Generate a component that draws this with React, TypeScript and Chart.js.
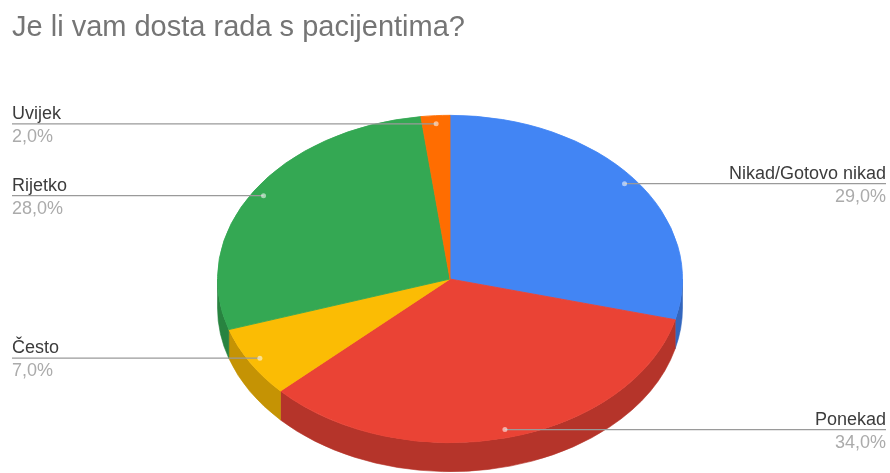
import React, { useEffect, useRef } from "react";
import { Chart, registerables } from "chart.js";

Chart.register(...registerables);

const title = "Je li vam dosta rada s pacijentima?";
const categories = ["Nikad/Gotovo nikad", "Ponekad", "Često", "Rijetko", "Uvijek"];
const values = [29, 34, 7, 28, 2];
const percentLabels = ["29,0%", "34,0%", "7,0%", "28,0%", "2,0%"];
const topColors = ["#4285F4", "#EA4335", "#FBBC04", "#34A853", "#FF6D01"];
const sideColors = ["#3366BE", "#B5342A", "#C59304", "#288340", "#C45400"];

const W = 890;
const H = 473;
const SCREEN_CY = 279;
const TILT = 0.704;
const DEPTH = 29;
const FONT = "'Liberation Sans', Arial, sans-serif";

const pie3d = {
  id: "pie3d",
  beforeDatasetsDraw(chart: any) {
    const ctx = chart.ctx as CanvasRenderingContext2D;
    const arcs = chart.getDatasetMeta(0).data as any[];
    if (!arcs.length) return;
    const cx = arcs[0].x;
    const cy = arcs[0].y;
    const R = arcs[0].outerRadius;
    arcs.forEach((a: any, i: number) => {
      const s = Math.max(a.startAngle, 0);
      const e = Math.min(a.endAngle, Math.PI);
      if (e > s) {
        ctx.beginPath();
        ctx.ellipse(cx, SCREEN_CY, R, R * TILT, 0, s, e);
        ctx.ellipse(cx, SCREEN_CY + DEPTH, R, R * TILT, 0, e, s, true);
        ctx.closePath();
        ctx.fillStyle = sideColors[i];
        ctx.fill();
        ctx.strokeStyle = sideColors[i];
        ctx.lineWidth = 0.6;
        ctx.stroke();
      }
    });
    ctx.save();
    ctx.translate(0, SCREEN_CY);
    ctx.scale(1, TILT);
    ctx.translate(0, -cy);
  },
  afterDatasetsDraw(chart: any) {
    const ctx = chart.ctx as CanvasRenderingContext2D;
    ctx.restore();
    const arcs = chart.getDatasetMeta(0).data as any[];
    if (!arcs.length) return;
    const cx = arcs[0].x;
    const R = arcs[0].outerRadius;
    ctx.save();
    // title
    ctx.font = `29px ${FONT}`;
    ctx.fillStyle = "#757575";
    ctx.textAlign = "left";
    ctx.textBaseline = "alphabetic";
    ctx.fillText(title, 12, 36);
    arcs.forEach((a: any, i: number) => {
      const mid = (a.startAngle + a.endAngle) / 2;
      const px = cx + 0.95 * R * Math.cos(mid);
      const py = SCREEN_CY + 0.95 * R * TILT * Math.sin(mid);
      const left = Math.cos(mid) < 0;
      const edge = left ? 12 : 886;
      ctx.beginPath();
      ctx.moveTo(px, py);
      ctx.lineTo(edge, py);
      ctx.strokeStyle = "#9a9a9a";
      ctx.lineWidth = 1.3;
      ctx.stroke();
      ctx.beginPath();
      ctx.arc(px, py, 2.5, 0, Math.PI * 2);
      ctx.fillStyle = "rgba(255,255,255,0.55)";
      ctx.fill();
      ctx.textAlign = left ? "left" : "right";
      ctx.font = `18px ${FONT}`;
      ctx.fillStyle = "#3c3c3c";
      ctx.fillText(categories[i], edge, py - 5);
      ctx.fillStyle = "#ababab";
      ctx.fillText(percentLabels[i], edge, py + 18);
    });
    ctx.restore();
  },
};

export default function App() {
  const ref = useRef<HTMLCanvasElement | null>(null);
  useEffect(() => {
    if (!ref.current) return;
    const chart = new Chart(ref.current, {
      type: "pie",
      data: {
        labels: categories,
        datasets: [
          {
            data: values,
            backgroundColor: topColors,
            borderColor: topColors,
            borderWidth: 1,
            clip: false,
          } as any,
        ],
      },
      options: {
        responsive: false,
        animation: false,
        events: [],
        layout: { padding: { left: 217, right: 207, top: 3, bottom: 4 } },
        plugins: {
          legend: { display: false },
          tooltip: { enabled: false },
          title: { display: false },
        },
      },
      plugins: [pie3d],
    });
    return () => chart.destroy();
  }, []);
  return (
    <div style={{ position: "fixed", left: 0, top: 0, width: W, height: H, background: "#fff" }}>
      <canvas ref={ref} width={W} height={H} style={{ width: W, height: H, display: "block" }} />
    </div>
  );
}
